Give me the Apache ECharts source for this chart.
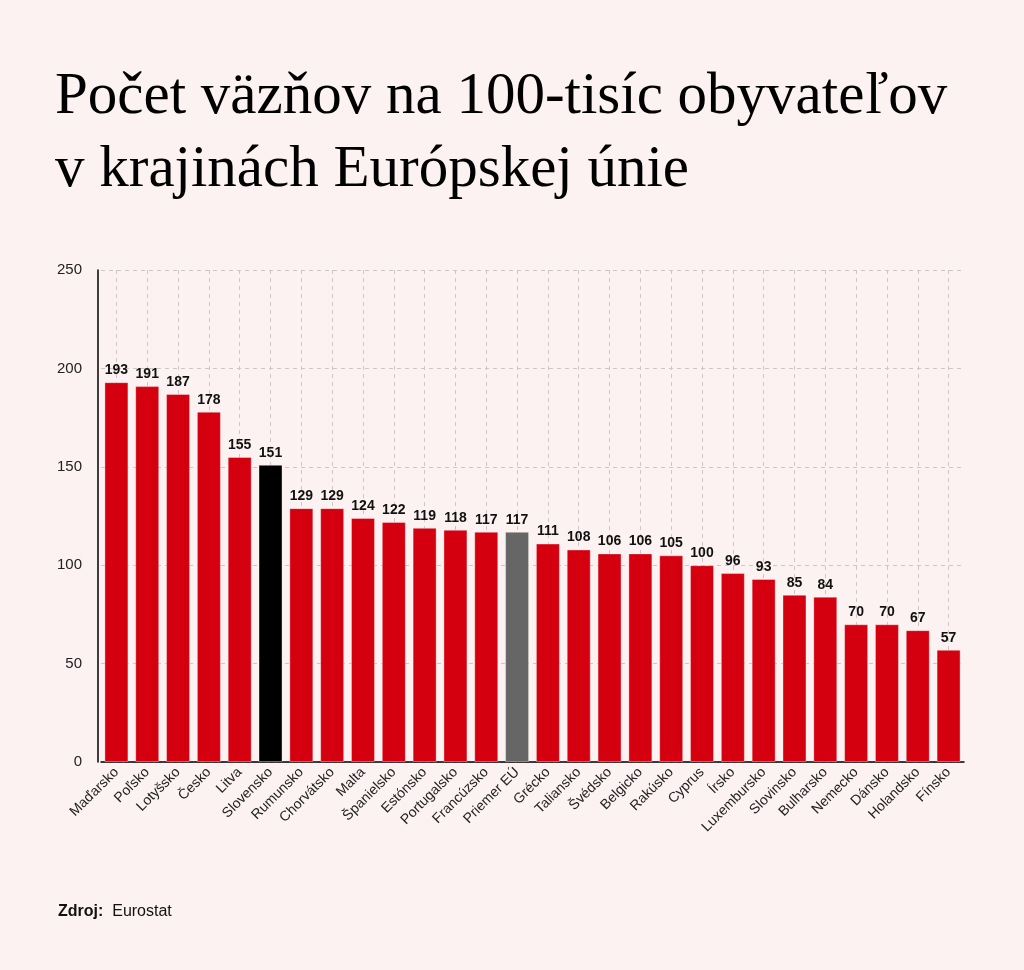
<!DOCTYPE html>
<html lang="sk">
<head>
	<meta charset="UTF-8">
	<title>Počet väzňov na 100-tisíc obyvateľov</title>
	<script type="text/javascript" src="https://cdn.jsdelivr.net/npm/echarts@6/dist/echarts.min.js"></script>
	<style type="text/css">
	html, body{margin: 0; padding: 0; background: #fdf2f2;}
	#container{width: 1024px; height: 970px;}
	</style>
</head>
<body>
	<div id="container"></div>
	<script type="text/javascript">
		// krajiny a hodnoty (väzni na 100 000 obyvateľov)
		var krajiny = ['Maďarsko','Poľsko','Lotyšsko','Česko','Litva','Slovensko','Rumunsko','Chorvátsko','Malta','Španielsko','Estónsko','Portugalsko','Francúzsko','Priemer EÚ','Grécko','Taliansko','Švédsko','Belgicko','Rakúsko','Cyprus','Írsko','Luxembursko','Slovinsko','Bulharsko','Nemecko','Dánsko','Holandsko','Fínsko'];
		var hodnoty = [193,191,187,178,155,151,129,129,124,122,119,118,117,117,111,108,106,106,105,100,96,93,85,84,70,70,67,57];
		var yTicks = [0,50,100,150,200,250];

		var cervena = '#d40010';
		var zvyraznene = {'Slovensko': '#000000', 'Priemer EÚ': '#666666'};

		var dom = document.getElementById("container");
		var myChart = echarts.init(dom);

		var option = {
			backgroundColor: '#fdf2f2',
			animation: false,
			title: [
				{
					text: 'Počet väzňov na 100-tisíc obyvateľov\nv krajinách Európskej únie',
					left: 50,
					top: 56,
					textStyle: {
						fontFamily: 'Liberation Serif',
						fontWeight: 'normal',
						fontSize: 59,
						lineHeight: 73,
						color: '#000'
					}
				},
				{
					text: '{b|Zdroj:}  Eurostat',
					left: 53,
					top: 899,
					textStyle: {
						fontFamily: 'Liberation Sans',
						fontSize: 16,
						fontWeight: 'normal',
						color: '#111',
						rich: {
							b: {fontFamily: 'Liberation Sans', fontSize: 16, fontWeight: 'bold', color: '#111'}
						}
					}
				}
			],
			grid: {
				left: 101,
				right: 60,
				top: 270,
				bottom: 208
			},
			xAxis: {
				type: 'category',
				data: krajiny,
				axisLine: {lineStyle: {color: '#000', width: 1.5}},
				axisTick: {alignWithLabel: true, length: 5, lineStyle: {color: '#000', width: 1.5}},
				axisLabel: {
					rotate: 45,
					interval: 0,
					margin: 8,
					fontFamily: 'Liberation Sans',
					fontSize: 14,
					color: '#222'
				},
				splitLine: {
					show: true,
					alignWithLabel: true,
					lineStyle: {color: '#cdc6c6', type: [4, 4], width: 1}
				}
			},
			yAxis: {
				type: 'value',
				min: yTicks[0],
				max: yTicks[yTicks.length - 1],
				interval: yTicks[1] - yTicks[0],
				offset: 3,
				axisLine: {show: true, lineStyle: {color: '#000', width: 1.5}},
				axisTick: {show: false},
				axisLabel: {
					margin: 16,
					fontFamily: 'Liberation Sans',
					fontSize: 15,
					color: '#222'
				},
				splitLine: {
					lineStyle: {color: '#cdc6c6', type: [4, 4], width: 1}
				}
			},
			series: [
				{
					type: 'bar',
					barWidth: 24,
					data: hodnoty.map(function(v, i){
						return {
							value: v,
							itemStyle: {color: zvyraznene[krajiny[i]] || cervena}
						};
					}),
					itemStyle: {borderColor: 'rgba(255,255,255,0.35)', borderWidth: 1},
					label: {
						show: true,
						position: 'top',
						distance: 5,
						fontFamily: 'Liberation Sans',
						fontWeight: 'bold',
						fontSize: 14,
						color: '#111'
					}
				}
			]
		};

		myChart.setOption(option, true);
	</script>
</body>
</html>
